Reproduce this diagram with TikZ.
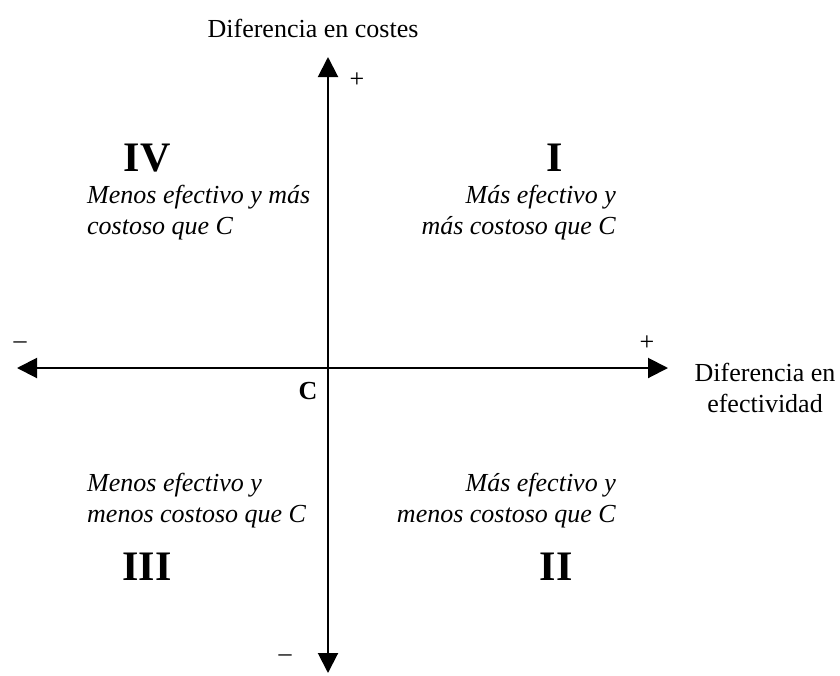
\documentclass[tikz,border=0pt]{standalone}
\usepackage{fontspec}
\setmainfont{Liberation Serif}
\usetikzlibrary{arrows.meta}
\begin{document}
\begin{tikzpicture}[
    x=1pt, y=-1pt,
    every node/.style={inner sep=0pt, font=\fontsize{26}{31}\selectfont},
    axis/.style={line width=2pt, {Triangle[length=20pt,width=20pt]}-{Triangle[length=20pt,width=20pt]}},
    quadrant/.style={font=\fontsize{42}{48}\selectfont\bfseries},
    desc/.style={font=\fontsize{26}{31}\selectfont\itshape}
  ]
  \useasboundingbox (0,0) rectangle (840,675);

  % axes
  \coordinate (origin) at (328,368);
  \coordinate (ytop) at (328,57);
  \coordinate (ybottom) at (328,673);
  \coordinate (xleft) at (17,368);
  \coordinate (xright) at (668,368);
  \draw[axis] (ybottom) -- (ytop);
  \draw[axis] (xleft) -- (xright);

  \node[anchor=base] (ylabel) at (313,37) {Diferencia en costes};
  \node[align=center] (xlabel) at (765,388) {Diferencia en\\efectividad};
  \node (yplus) at (357,80) {+};
  \node (xplus) at (647,343) {+};
  \node (xminus) at (20,345) {–};
  \node (yminus) at (285,658) {–};
  \node[font=\fontsize{26}{31}\selectfont\bfseries] (C) at (308,391) {C};

  % quadrants
  \node[quadrant] (IV) at (147,158) {IV};
  \node[quadrant] (I) at (555,158) {I};
  \node[quadrant] (III) at (147,567) {III};
  \node[quadrant] (II) at (556,567) {II};

  \node[desc, anchor=west, align=left] (dIV) at (87,213) {Menos efectivo y más\\costoso que C};
  \node[desc, anchor=east, align=right] (dI) at (616,213) {Más efectivo y\\más costoso que C};
  \node[desc, anchor=west, align=left] (dIII) at (87,501) {Menos efectivo y\\menos costoso que C};
  \node[desc, anchor=east, align=right] (dII) at (616,501) {Más efectivo y\\menos costoso que C};
\end{tikzpicture}
\end{document}
